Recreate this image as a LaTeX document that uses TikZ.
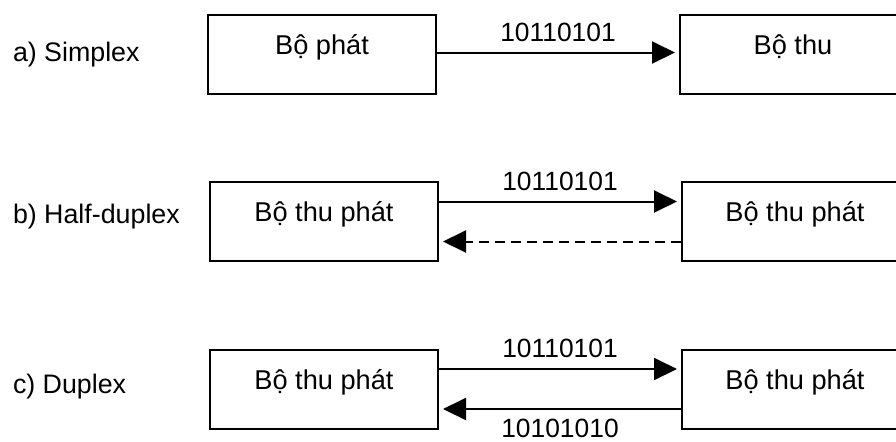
\documentclass[tikz,border=0pt]{standalone}
\usepackage{fontspec}
\setmainfont{Liberation Sans}
\usetikzlibrary{arrows.meta}
\usetikzlibrary{positioning}
\usetikzlibrary{calc}
\tikzset{every picture/.style={line width=1pt,x=0.5pt,y=-0.5pt},
dev/.style={draw,rectangle,minimum width=114pt,minimum height=39.5pt,inner sep=0pt,text height=10pt,text depth=10pt,font=\fontsize{13.6pt}{16pt}\selectfont},
mode/.style={anchor=west,inner sep=0pt,font=\fontsize{13.4pt}{15pt}\selectfont},
bits/.style={inner sep=5pt,font=\fontsize{13.2pt}{15pt}\selectfont},
sig/.style={-{Triangle[length=11.5pt,width=11pt]},shorten >=2pt}}

\begin{document}
\begin{tikzpicture}
\useasboundingbox (0,0) rectangle (896,441);

% a) simplex
\node (ma) at (12,55) [mode] {a) Simplex};
\node (a1) at (322,54.5) [dev] {Bộ phát};
\node (a2) at (793,54.5) [dev,minimum width=113pt] {Bộ thu};
\draw[sig] ([yshift=1pt]a1.east) -- node[bits,above] {10110101} ([yshift=1pt]a2.west);

% b) half-duplex
\node (mb) at (12,217) [mode] {b) Half-duplex};
\node (b1) at (324,221.5) [dev] {Bộ thu phát};
\node (b2) at (795,221.5) [dev,minimum width=113pt] {Bộ thu phát};
\draw[sig] ([yshift=10pt]b1.east) -- node[bits,above] {10110101} ([yshift=10pt]b2.west);
\draw[sig,dash pattern=on 5pt off 3pt] ([yshift=-10pt]b2.west) -- ([yshift=-10pt]b1.east);

% c) duplex
\node (mc) at (12,387) [mode] {c) Duplex};
\node (c1) at (324,389) [dev] {Bộ thu phát};
\node (c2) at (795,389) [dev,minimum width=113pt] {Bộ thu phát};
\draw[sig] ([yshift=10pt]c1.east) -- node[bits,above] {10110101} ([yshift=10pt]c2.west);
\draw[sig] ([yshift=-10pt]c2.west) -- node[bits,below,inner sep=1pt,yshift=-3.5pt] {10101010} ([yshift=-10pt]c1.east);

\end{tikzpicture}
\end{document}
